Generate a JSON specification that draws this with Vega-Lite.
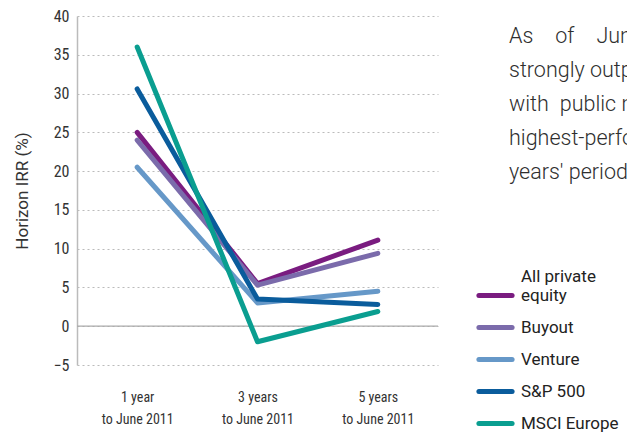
{
  "$schema": "https://vega.github.io/schema/vega-lite/v6.json",
  "autosize": {"type": "none"},
  "width": 361,
  "height": 349,
  "padding": {"left": 77, "top": 16, "right": 189, "bottom": 67},
  "background": "white",
  "title": {
    "text": ["As\u2003of\u2003June 2011, private equity had", "strongly outperformed compared", "with\u2002public markets, with the", "highest-performing over the one", "years' period"],
    "anchor": "start",
    "frame": "group",
    "orient": "top",
    "baseline": "top",
    "dx": 432,
    "dy": 179,
    "fontSize": 21.5,
    "fontWeight": 300,
    "font": "Roboto",
    "color": "#2e2e2e",
    "lineHeight": 34
  },
  "config": {
    "view": {"stroke": null},
    "font": "Roboto"
  },
  "datasets": {
    "irr": [
      {"period": "1 year", "series": "All private equity", "irr": 25.0},
      {"period": "3 years", "series": "All private equity", "irr": 5.5},
      {"period": "5 years", "series": "All private equity", "irr": 11.1},
      {"period": "1 year", "series": "Buyout", "irr": 24.0},
      {"period": "3 years", "series": "Buyout", "irr": 5.3},
      {"period": "5 years", "series": "Buyout", "irr": 9.4},
      {"period": "1 year", "series": "Venture", "irr": 20.5},
      {"period": "3 years", "series": "Venture", "irr": 3.0},
      {"period": "5 years", "series": "Venture", "irr": 4.5},
      {"period": "1 year", "series": "S&P 500", "irr": 30.6},
      {"period": "3 years", "series": "S&P 500", "irr": 3.5},
      {"period": "5 years", "series": "S&P 500", "irr": 2.8},
      {"period": "1 year", "series": "MSCI Europe", "irr": 36.0},
      {"period": "3 years", "series": "MSCI Europe", "irr": -2.0},
      {"period": "5 years", "series": "MSCI Europe", "irr": 1.9}
    ]
  },
  "encoding": {
    "y": {
      "field": "irr",
      "type": "quantitative",
      "scale": {"domain": [-5, 40], "nice": false, "zero": false},
      "axis": {
        "title": "Horizon IRR (%)",
        "titleFont": "Roboto",
        "titleFontSize": 17,
        "titleFontWeight": "normal",
        "titleColor": "#333333",
        "titlePadding": 22,
        "values": [-5, 0, 5, 10, 15, 20, 25, 30, 35, 40],
        "labelFont": "Roboto Condensed, Liberation Sans Narrow, Arial Narrow, Roboto",
        "labelFontSize": 16,
        "labelColor": "#333333",
        "labelPadding": 8,
        "ticks": false,
        "domainColor": "#bbbbbb",
        "domainWidth": 1.5,
        "grid": true,
        "gridColor": "#bbbbbb",
        "gridDash": [2, 3],
        "gridWidth": 1
      }
    }
  },
  "layer": [
    {
      "data": {"values": [{"irr": 0}]},
      "mark": {"type": "rule", "color": "#aaaaaa", "strokeWidth": 1.2}
    },
    {
      "data": {"name": "irr"},
      "mark": {"type": "line", "strokeWidth": 5, "strokeCap": "round", "strokeJoin": "round"},
      "encoding": {
        "x": {
          "field": "period",
          "type": "ordinal",
          "sort": ["1 year", "3 years", "5 years"],
          "scale": {"type": "point", "padding": 0.5},
          "axis": {
            "title": null,
            "labelAngle": 0,
            "labelExpr": "[datum.value, 'to June 2011']",
            "labelFont": "Roboto Condensed, Liberation Sans Narrow, Arial Narrow, Roboto",
            "labelFontSize": 14,
            "labelColor": "#333333",
            "labelLineHeight": 22,
            "labelPadding": 25,
            "domain": false,
            "ticks": false,
            "grid": false
          }
        },
        "color": {
          "field": "series",
          "type": "nominal",
          "sort": ["All private equity", "Buyout", "Venture", "S&P 500", "MSCI Europe"],
          "scale": {
            "domain": ["All private equity", "Buyout", "Venture", "S&P 500", "MSCI Europe"],
            "range": ["#7a1c80", "#7b6bab", "#6698c8", "#0a5c9c", "#0a9e90"]
          },
          "legend": {
            "title": null,
            "orient": "none",
            "legendX": 399,
            "legendY": 260,
            "symbolType": "stroke",
            "symbolStrokeWidth": 5,
            "symbolSize": 1100,
            "labelFont": "Roboto",
            "labelFontSize": 17,
            "labelColor": "#222222",
            "labelExpr": "datum.label == 'All private equity' ? ['All private', 'equity'] : datum.label",
            "labelLineHeight": 20,
            "rowPadding": 2,
            "labelOffset": 6,
            "encode": {
              "symbols": {"update": {"strokeCap": {"value": "round"}}},
              "labels": {"update": {"dy": {"signal": "datum.value === 'All private equity' ? -19 : 0"}}}
            }
          }
        },
        "order": {"field": "series"}
      }
    }
  ]
}
